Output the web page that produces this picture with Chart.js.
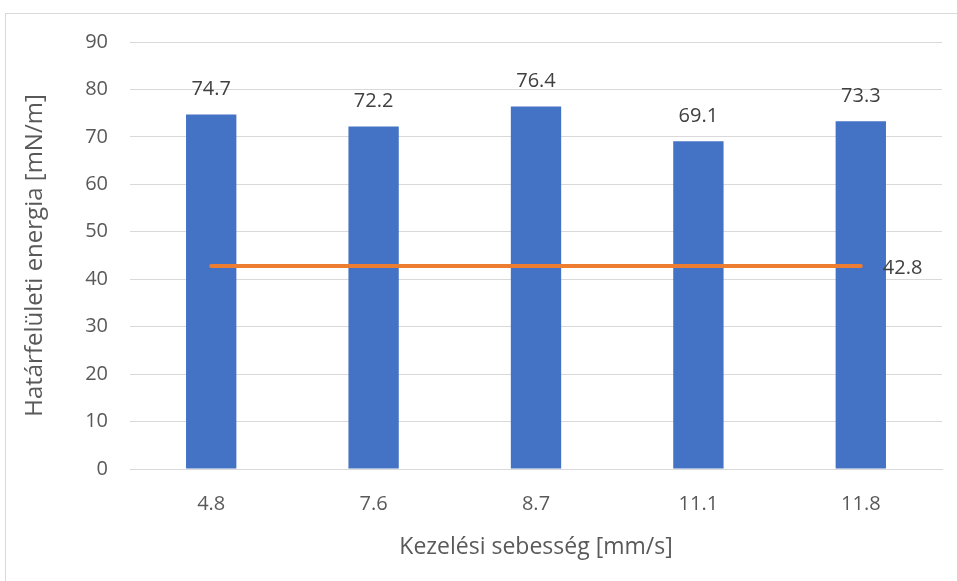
<!DOCTYPE html>
<html>
<head>
<meta charset="utf-8">
<script src="https://cdn.jsdelivr.net/npm/chart.js@4/dist/chart.umd.min.js"></script>
<style>
  html, body { margin: 0; padding: 0; background: #ffffff; }
  #wrap { position: relative; width: 957px; height: 581px; }
</style>
</head>
<body>
<div id="wrap"><canvas id="c" width="957" height="581"></canvas></div>
<script>
// Treatment speeds and measured interfacial energy
const categories = ['4.8', '7.6', '8.7', '11.1', '11.8'];
const energyValues = [74.7, 72.2, 76.4, 69.1, 73.3];
const referenceValues = [42.8, 42.8, 42.8, 42.8, 42.8];
const yTicks = [0, 10, 20, 30, 40, 50, 60, 70, 80, 90];

const FONT = '"Open Sans", "Liberation Sans", sans-serif';

// Light frame around the chart area
const framePlugin = {
  id: 'frame',
  beforeDraw(chart) {
    const ctx = chart.ctx;
    ctx.save();
    ctx.fillStyle = '#ffffff';
    ctx.fillRect(0, 0, chart.width, chart.height);
    ctx.strokeStyle = '#d9d9d9';
    ctx.lineWidth = 1;
    ctx.strokeRect(5.5, 13.5, 1000, 1000);
    ctx.restore();
  }
};

// Value labels: above each bar, and to the right of the line's last point
const valueLabels = {
  id: 'valueLabels',
  afterDatasetsDraw(chart) {
    const ctx = chart.ctx;
    ctx.save();
    ctx.font = '20px ' + FONT;
    ctx.fillStyle = '#404040';
    const barMeta = chart.getDatasetMeta(1);
    barMeta.data.forEach((el, i) => {
      ctx.textAlign = 'center';
      ctx.textBaseline = 'middle';
      ctx.fillText(energyValues[i].toFixed(1), el.x, el.y - 25);
    });
    const lineMeta = chart.getDatasetMeta(0);
    const last = lineMeta.data[lineMeta.data.length - 1];
    ctx.textAlign = 'left';
    ctx.textBaseline = 'middle';
    ctx.fillText(referenceValues[referenceValues.length - 1].toFixed(1), last.x + 22, last.y + 2);
    ctx.restore();
  }
};

new Chart(document.getElementById('c'), {
  data: {
    labels: categories,
    datasets: [
      {
        type: 'line',
        data: referenceValues,
        borderColor: '#ED7D31',
        borderWidth: 4,
        borderCapStyle: 'round',
        pointRadius: 0,
        fill: false
      },
      {
        type: 'bar',
        data: energyValues,
        backgroundColor: '#4472C4',
        categoryPercentage: 1,
        barPercentage: 0.31
      }
    ]
  },
  options: {
    responsive: false,
    animation: false,
    events: [],
    layout: { padding: { left: 17, right: 15, top: 42, bottom: 16 } },
    plugins: {
      legend: { display: false },
      tooltip: { enabled: false }
    },
    scales: {
      x: {
        grid: { display: false, drawTicks: false },
        border: { display: true, color: '#d9d9d9', width: 1 },
        ticks: { color: '#595959', font: { family: FONT, size: 20 }, padding: 23 },
        title: {
          display: true,
          text: 'Kezelési sebesség [mm/s]',
          color: '#595959',
          font: { family: FONT, size: 23 },
          padding: { top: 4, bottom: 4 }
        },
        afterFit(scale) { scale.height = 96; }
      },
      y: {
        min: 0,
        max: 90,
        afterBuildTicks(scale) { scale.ticks = yTicks.map(v => ({ value: v })); },
        grid: { color: '#d9d9d9', lineWidth: 1, drawTicks: false },
        border: { display: false },
        ticks: { color: '#595959', font: { family: FONT, size: 20 }, padding: 22 },
        title: {
          display: true,
          text: 'Határfelületi energia [mN/m]',
          color: '#595959',
          font: { family: FONT, size: 24 },
          padding: { top: 4, bottom: 4 }
        },
        afterFit(scale) { scale.width = 113; }
      }
    }
  },
  plugins: [framePlugin, valueLabels]
});
</script>
</body>
</html>
